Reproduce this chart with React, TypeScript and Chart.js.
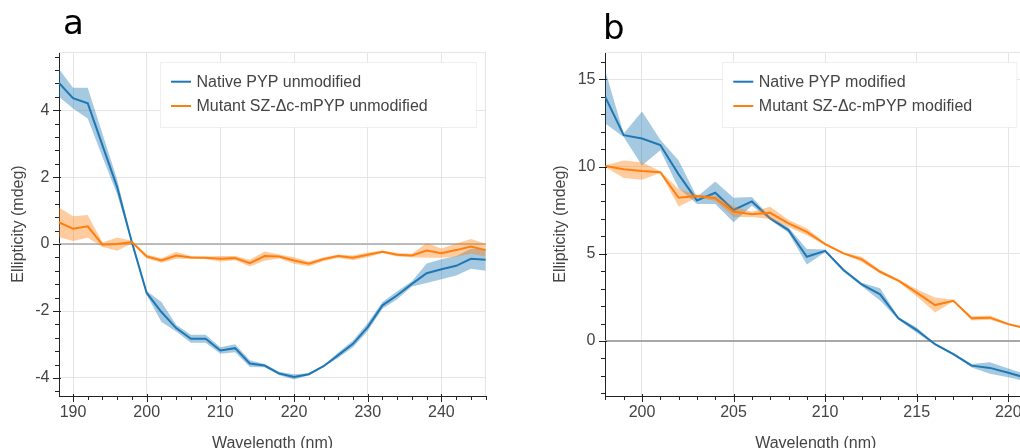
import React, { useEffect, useRef } from "react";
import { Chart, registerables } from "chart.js";

Chart.register(...registerables);

// ---------------- data ----------------
const wavelengthA = [188, 190, 192, 194, 196, 198, 200, 202, 204, 206, 208, 210, 212, 214, 216, 218, 220, 222, 224, 226, 228, 230, 232, 234, 236, 238, 240, 242, 244, 246];
const nativeUnmodified = [4.84, 4.36, 4.21, 2.95, 1.7, 0.05, -1.46, -2.03, -2.51, -2.83, -2.83, -3.18, -3.11, -3.57, -3.63, -3.87, -3.97, -3.89, -3.65, -3.32, -2.98, -2.48, -1.83, -1.53, -1.19, -0.87, -0.75, -0.65, -0.44, -0.47];
const nativeUnmodifiedSd = [0.42, 0.31, 0.46, 0.35, 0.22, 0.05, 0.06, 0.3, 0.1, 0.12, 0.12, 0.1, 0.12, 0.1, 0.05, 0.05, 0.08, 0.03, 0.02, 0.08, 0.1, 0.12, 0.1, 0.12, 0.08, 0.29, 0.3, 0.29, 0.3, 0.33];
const mutantUnmodified = [0.66, 0.46, 0.53, -0.02, 0.0, 0.06, -0.37, -0.49, -0.34, -0.4, -0.41, -0.44, -0.42, -0.57, -0.36, -0.37, -0.49, -0.59, -0.45, -0.36, -0.41, -0.32, -0.23, -0.32, -0.34, -0.19, -0.27, -0.18, -0.07, -0.18];
const mutantUnmodifiedSd = [0.45, 0.37, 0.34, 0.07, 0.2, 0.04, 0.06, 0.07, 0.1, 0.04, 0.04, 0.08, 0.06, 0.1, 0.14, 0.06, 0.1, 0.07, 0.06, 0.05, 0.07, 0.07, 0.04, 0.05, 0.05, 0.22, 0.14, 0.2, 0.22, 0.19];

const wavelengthB = [198, 199, 200, 201, 202, 203, 204, 205, 206, 207, 208, 209, 210, 211, 212, 213, 214, 215, 216, 217, 218, 219, 220, 221];
const nativeModified = [13.97, 11.8, 11.61, 11.23, 9.55, 8.06, 8.5, 7.51, 8.0, 7.03, 6.36, 4.83, 5.17, 4.07, 3.24, 2.68, 1.3, 0.63, -0.18, -0.75, -1.41, -1.54, -1.82, -2.12];
const nativeModifiedSd = [1.5, 0.1, 1.55, 0.3, 0.8, 0.2, 0.65, 0.7, 0.25, 0.1, 0.15, 0.45, 0.08, 0.08, 0.1, 0.35, 0.08, 0.15, 0.06, 0.06, 0.1, 0.33, 0.25, 0.2];
const mutantModified = [10.03, 9.84, 9.74, 9.68, 8.21, 8.31, 8.18, 7.41, 7.26, 7.35, 6.74, 6.26, 5.56, 5.02, 4.68, 3.97, 3.46, 2.77, 2.06, 2.31, 1.3, 1.34, 0.97, 0.72];
const mutantModifiedSd = [0.05, 0.5, 0.5, 0.05, 0.5, 0.08, 0.15, 0.3, 0.15, 0.35, 0.2, 0.2, 0.06, 0.05, 0.15, 0.1, 0.08, 0.2, 0.43, 0.05, 0.12, 0.12, 0.06, 0.06];

const legendA = ["Native PYP unmodified", "Mutant SZ-Δc-mPYP unmodified"];
const legendB = ["Native PYP modified", "Mutant SZ-Δc-mPYP modified"];
const xAxisTitle = "Wavelength (nm)";
const yAxisTitle = "Ellipticity (mdeg)";

// ---------------- style ----------------
const FONT = '"Liberation Sans", Arial, Helvetica, sans-serif';
const TEXT = "#444444";
const AXIS = "#222222";
const GRID = "#e5e5e5";
const BLUE = "#1f77b4";
const ORANGE = "#ff7f0e";
const BLUE_BAND = "rgba(31,119,180,0.4)";
const ORANGE_BAND = "rgba(255,127,14,0.4)";

function bandSets(xs: number[], ys: number[], sd: number[], color: string, band: string, label: string, baseOrder: number) {
  const pts = (f: (i: number) => number) => xs.map((x, i) => ({ x, y: f(i) }));
  return [
    { label: label + " upper", data: pts((i) => ys[i] + sd[i]), borderWidth: 0, borderColor: "rgba(0,0,0,0)", backgroundColor: band, fill: "+1", pointRadius: 0, order: baseOrder + 2 },
    { label: label + " lower", data: pts((i) => ys[i] - sd[i]), borderWidth: 0, borderColor: "rgba(0,0,0,0)", backgroundColor: band, fill: false, pointRadius: 0, order: baseOrder + 1 },
    { label, data: pts((i) => ys[i]), borderColor: color, backgroundColor: color, borderWidth: 2, fill: false, pointRadius: 0, order: baseOrder },
  ];
}

const decorPlugin = {
  id: "decor",
  beforeDatasetsDraw(chart: any, _args: any, o: any) {
    const { ctx, chartArea: a, scales } = chart;
    ctx.save();
    ctx.strokeStyle = GRID;
    ctx.lineWidth = 1;
    ctx.beginPath();
    ctx.moveTo(a.left, Math.round(a.top) + 0.5);
    ctx.lineTo(a.right, Math.round(a.top) + 0.5);
    ctx.moveTo(Math.round(a.right) - 0.5, a.top);
    ctx.lineTo(Math.round(a.right) - 0.5, a.bottom);
    ctx.stroke();
    const y0 = scales.y.getPixelForValue(0);
    ctx.strokeStyle = "#a8a8a8";
    ctx.lineWidth = o.zeroWidth;
    ctx.beginPath();
    ctx.moveTo(a.left, y0);
    ctx.lineTo(a.right, y0);
    ctx.stroke();
    ctx.restore();
  },
  afterDatasetsDraw(chart: any, _args: any, o: any) {
    const { ctx, chartArea: a } = chart;
    const b = o.legendBox;
    const bx = a.left + b.dx;
    const by = a.top + b.dy;
    ctx.save();
    ctx.fillStyle = "rgba(255,255,255,0.95)";
    ctx.fillRect(bx, by, b.w, b.h);
    ctx.strokeStyle = "rgba(229,229,229,0.6)";
    ctx.lineWidth = 1;
    ctx.strokeRect(Math.round(bx) + 0.5, Math.round(by) + 0.5, b.w, b.h);
    const colors = [BLUE, ORANGE];
    ctx.font = "16px " + FONT;
    ctx.textBaseline = "middle";
    ctx.textAlign = "left";
    o.labels.forEach((lab: string, i: number) => {
      const ly = by + 19.7 + i * 24.3;
      ctx.strokeStyle = colors[i];
      ctx.lineWidth = 2;
      ctx.beginPath();
      ctx.moveTo(bx + 11, ly);
      ctx.lineTo(bx + 31, ly);
      ctx.stroke();
      ctx.fillStyle = TEXT;
      ctx.fillText(lab, bx + 36.5, ly + 0.5);
    });
    ctx.restore();
  },
  afterDraw(chart: any, _args: any, o: any) {
    const { ctx, chartArea: a, scales } = chart;
    const { x, y } = scales;
    ctx.save();
    ctx.strokeStyle = AXIS;
    ctx.lineWidth = 1;
    ctx.beginPath();
    const isMajor = (v: number, major: number) => Math.abs(v / major - Math.round(v / major)) < 1e-6;
    const xt = o.xTicks;
    for (let k = Math.ceil(x.min / xt.minor - 1e-9); k * xt.minor <= x.max + 1e-9; k++) {
      const v = k * xt.minor;
      const px = Math.round(x.getPixelForValue(v)) + 0.5;
      if (px > a.right + 1) continue;
      const maj = isMajor(v, xt.major);
      ctx.moveTo(px, a.bottom - (maj ? 2 : 0));
      ctx.lineTo(px, a.bottom + (maj ? 6 : 4));
    }
    const yt = o.yTicks;
    for (let k = Math.ceil(y.min / yt.minor - 1e-9); k * yt.minor <= y.max + 1e-9; k++) {
      const v = k * yt.minor;
      const py = Math.round(y.getPixelForValue(v)) + 0.5;
      const maj = isMajor(v, yt.major);
      ctx.moveTo(a.left + (maj ? 2 : 0), py);
      ctx.lineTo(a.left - (maj ? 6 : 4), py);
    }
    ctx.stroke();
    ctx.fillStyle = "#000";
    ctx.font = '34px "DejaVu Sans", sans-serif';
    ctx.textBaseline = "alphabetic";
    ctx.textAlign = "left";
    ctx.fillText(o.letter.text, o.letter.x, o.letter.y);
    ctx.restore();
  },
};

function makeConfig(p: any): any {
  return {
    type: "line",
    data: {
      datasets: [
        ...bandSets(p.xs, p.native, p.nativeSd, BLUE, BLUE_BAND, p.labels[0], 10),
        ...bandSets(p.xs, p.mutant, p.mutantSd, ORANGE, ORANGE_BAND, p.labels[1], 0),
      ],
    },
    plugins: [decorPlugin],
    options: {
      responsive: false,
      animation: false,
      devicePixelRatio: 1,
      layout: { padding: { left: 0, top: 52, right: p.padRight, bottom: 0 } },
      elements: { line: { tension: 0 } },
      plugins: {
        legend: { display: false },
        tooltip: { enabled: false },
        decor: {
          zeroWidth: p.zeroWidth,
          legendBox: p.legendBox,
          labels: p.labels,
          xTicks: p.xTicks,
          yTicks: p.yTicks,
          letter: p.letter,
        },
      },
      scales: {
        x: {
          type: "linear",
          min: p.xMin,
          max: p.xMax,
          afterFit: (s: any) => { s.height = 64; },
          grid: { color: GRID, lineWidth: 1, drawTicks: false },
          border: { display: true, color: AXIS, width: 1 },
          ticks: {
            stepSize: p.xTicks.major,
            includeBounds: false,
            padding: 7,
            color: TEXT,
            font: { family: FONT, size: 16 },
            maxRotation: 0,
            autoSkip: false,
            callback: (v: any) => String(v),
          },
          title: { display: true, text: xAxisTitle, color: TEXT, font: { family: FONT, size: 16 }, padding: { top: 0, bottom: 6.5 } },
        },
        y: {
          type: "linear",
          min: p.yMin,
          max: p.yMax,
          afterFit: (s: any) => { s.width = p.yWidth; },
          grid: { color: GRID, lineWidth: 1, drawTicks: false },
          border: { display: true, color: AXIS, width: 1 },
          ticks: {
            stepSize: p.yTicks.major,
            includeBounds: false,
            padding: 9.5,
            color: TEXT,
            font: { family: FONT, size: 16 },
            autoSkip: false,
            callback: (v: any) => String(v),
          },
          title: { display: true, text: yAxisTitle, color: TEXT, font: { family: FONT, size: 16 }, padding: { top: p.yTitlePad, bottom: 0 } },
        },
      },
    },
  };
}

const panelA = {
  xs: wavelengthA,
  native: nativeUnmodified,
  nativeSd: nativeUnmodifiedSd,
  mutant: mutantUnmodified,
  mutantSd: mutantUnmodifiedSd,
  labels: legendA,
  xMin: 188.1,
  xMax: 246.05,
  yMin: -4.54,
  yMax: 5.74,
  xTicks: { minor: 2, major: 10 },
  yTicks: { minor: 0.4, major: 2 },
  yWidth: 59,
  yTitlePad: 9,
  padRight: 14,
  zeroWidth: 1.5,
  legendBox: { dx: 101, dy: 10, w: 316, h: 65 },
  letter: { text: "a", x: 63, y: 34.3 },
};

const panelB = {
  xs: wavelengthB,
  native: nativeModified,
  nativeSd: nativeModifiedSd,
  mutant: mutantModified,
  mutantSd: mutantModifiedSd,
  labels: legendB,
  xMin: 197.98,
  xMax: 221,
  yMin: -3.15,
  yMax: 16.565,
  xTicks: { minor: 1, major: 5 },
  yTicks: { minor: 1, major: 5 },
  yWidth: 85,
  yTitlePad: 31.4,
  padRight: 13.4,
  zeroWidth: 2,
  legendBox: { dx: 117.3, dy: 10, w: 294.4, h: 65 },
  letter: { text: "b", x: 83, y: 39.3 },
};

export default function App() {
  const refA = useRef<HTMLCanvasElement>(null);
  const refB = useRef<HTMLCanvasElement>(null);
  useEffect(() => {
    const ca = new Chart(refA.current as HTMLCanvasElement, makeConfig(panelA));
    const cb = new Chart(refB.current as HTMLCanvasElement, makeConfig(panelB));
    return () => {
      ca.destroy();
      cb.destroy();
    };
  }, []);
  return (
    <div style={{ position: "absolute", left: 0, top: 0, width: 1020, height: 448, overflow: "hidden", background: "#fff" }}>
      <canvas ref={refA} width={500} height={460} style={{ position: "absolute", left: 0, top: 0, width: 500, height: 460 }} />
      <canvas ref={refB} width={520} height={460} style={{ position: "absolute", left: 520, top: 0, width: 520, height: 460 }} />
    </div>
  );
}
